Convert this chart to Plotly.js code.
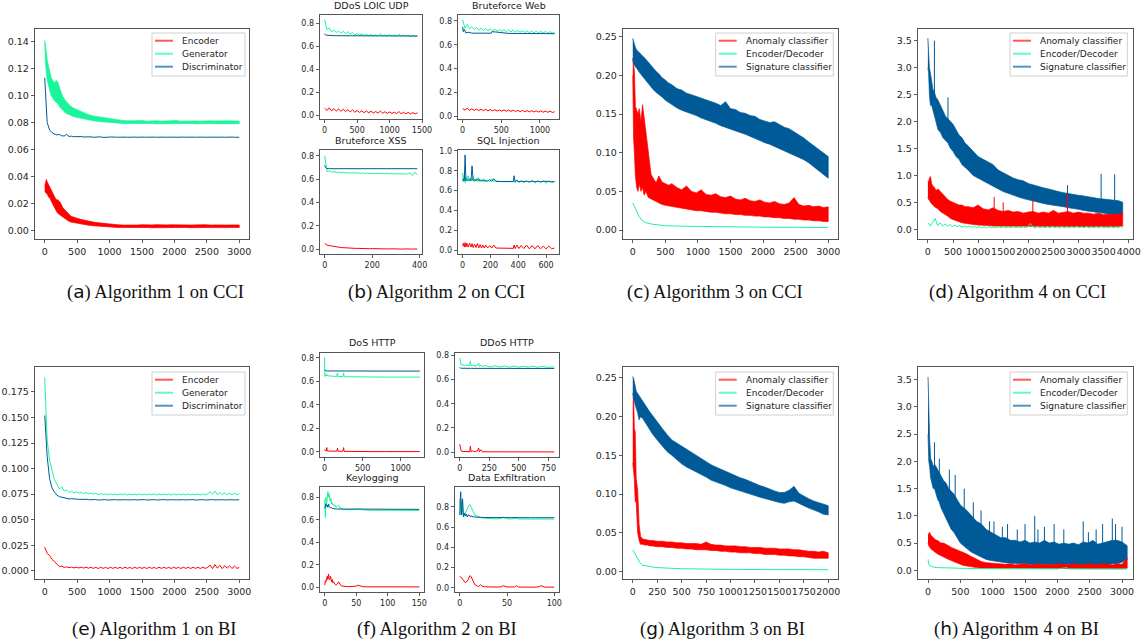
<!DOCTYPE html>
<html><head><meta charset="utf-8">
<script src="https://cdn.plot.ly/plotly-3.0.1.min.js"></script>
<style>html,body{margin:0;padding:0;background:#fff;} #chart{width:1145px;height:644px;}</style>
</head><body><div id="chart"></div>
<script>
// ======================= DATA =======================
// shared x grids (iterations)
const G30 = [0,12,25,40,60,80,100,125,150,175,200,240,280,320,360,400,450,500,550,600,
 675,750,825,900,975,1050,1125,1200,1275,1350,1425,1500,1575,1650,1725,1800,1875,1950,2025,2100,
 2175,2250,2325,2400,2475,2550,2625,2700,2775,2850,2925,3000];
const G39 = [0,15,30,50,75,100,130,160,200,250,300,350,400,450,500,560,620,680,740,800,
 900,1000,1100,1200,1300,1400,1500,1600,1700,1800,1900,2000,2100,2200,2300,2400,2500,2600,2700,2800,
 2900,3000,3100,3200,3300,3400,3500,3600,3700,3800,3880];
const G20 = [0,8,16,25,35,50,65,80,100,125,150,175,200,250,300,350,400,450,500,550,
 600,650,700,750,800,850,900,950,1000,1050,1100,1150,1200,1250,1300,1350,1400,1450,1500,1550,
 1600,1650,1700,1750,1800,1850,1900,1950,2000];
const G31 = [0,12,25,40,60,80,100,125,150,175,200,240,280,320,360,400,450,500,550,600,
 675,750,825,900,975,1050,1125,1200,1275,1350,1425,1500,1575,1650,1725,1800,1875,1950,2025,2100,
 2175,2250,2325,2400,2475,2550,2625,2700,2775,2850,2925,3000,3080];

// (a) Algorithm 1 on CCI  (noisy series as upper/lower envelopes on G30)
const A_enc_hi = [0.033,0.036,0.038,0.036,0.034,0.032,0.030,0.028,0.025,0.023,
 0.023,0.021,0.017,0.015,0.013,0.011,0.010,0.009,0.0085,0.008,
 0.007,0.0065,0.006,0.0055,0.0050,0.0047,0.0045,0.0043,0.0042,0.0044,
 0.0043,0.0045,0.0043,0.0044,0.0046,0.0043,0.0044,0.0045,0.0043,0.0046,
 0.0044,0.0043,0.0045,0.0044,0.0046,0.0043,0.0045,0.0044,0.0043,0.0045,0.0044,0.0043];
const A_enc_lo = [0.029,0.029,0.028,0.027,0.025,0.024,0.022,0.020,0.017,0.015,
 0.013,0.012,0.010,0.009,0.0075,0.0065,0.006,0.0055,0.005,0.0047,
 0.0042,0.0038,0.0034,0.0031,0.0028,0.0027,0.0025,0.0024,0.0023,0.0024,
 0.0023,0.0024,0.0025,0.0023,0.0024,0.0023,0.0025,0.0024,0.0023,0.0024,
 0.0025,0.0023,0.0024,0.0023,0.0025,0.0024,0.0023,0.0024,0.0025,0.0023,0.0024,0.0025];
const A_gen_hi = [0.141,0.136,0.131,0.126,0.121,0.116,0.113,0.111,0.109,0.111,
 0.110,0.104,0.099,0.096,0.094,0.092,0.0905,0.0895,0.088,0.087,
 0.0858,0.0848,0.0842,0.0836,0.0829,0.0823,0.0818,0.0815,0.0812,0.0813,
 0.0811,0.0814,0.0810,0.0812,0.0813,0.0810,0.0812,0.0811,0.0814,0.0810,
 0.0812,0.0813,0.0811,0.0810,0.0813,0.0812,0.0811,0.0813,0.0810,0.0812,0.0811,0.0810];
const A_gen_lo = [0.139,0.124,0.117,0.111,0.107,0.103,0.100,0.098,0.096,0.095,
 0.094,0.091,0.089,0.087,0.086,0.0852,0.0843,0.0837,0.0832,0.0826,
 0.0819,0.0813,0.0808,0.0804,0.0801,0.0797,0.0795,0.0793,0.0792,0.0791,
 0.0792,0.0790,0.0791,0.0792,0.0790,0.0791,0.0790,0.0792,0.0791,0.0790,
 0.0791,0.0792,0.0790,0.0791,0.0790,0.0792,0.0791,0.0790,0.0791,0.0792,0.0790,0.0791];
const A_dx = 37.5;
const A_disc = [0.113,0.080,0.0745,0.0725,0.0715,0.0708,0.0712,0.0702,0.0700,0.0712,
 0.0697,0.0699,0.0695,0.0697,0.0694,0.0696,0.0693,0.0695,0.0692,0.0694,
 0.0691,0.0693,0.0691,0.0694,0.0690,0.0693,0.0691,0.0693,0.0690,0.0692,
 0.0691,0.0693,0.0690,0.0692,0.0691,0.0693,0.0690,0.0692,0.0691,0.0693,
 0.0690,0.0692,0.0691,0.0693,0.0690,0.0692,0.0691,0.0693,0.0690,0.0692,
 0.0691,0.0693,0.0690,0.0692,0.0691,0.0693,0.0690,0.0692,0.0691,0.0693,
 0.0690,0.0692,0.0691,0.0693,0.0690,0.0692,0.0691,0.0693,0.0690,0.0692,
 0.0691,0.0693,0.0690,0.0692,0.0691,0.0693,0.0690,0.0692,0.0691,0.0693,0.0691];

// (b) Algorithm 2 on CCI
const B1_dx = 35.75;   // DDoS LOIC UDP
const B1_enc = [0.065,0.045,0.068,0.042,0.06,0.04,0.058,0.038,0.055,0.035,
 0.052,0.032,0.05,0.03,0.045,0.028,0.042,0.026,0.04,0.025,
 0.038,0.023,0.036,0.022,0.04,0.021,0.034,0.02,0.032,0.019,
 0.03,0.018,0.035,0.017,0.029,0.016,0.028,0.015,0.027,0.015,0.025];
const B1_gen = [0.83,0.745,0.76,0.725,0.74,0.72,0.735,0.715,0.73,0.712,
 0.728,0.705,0.72,0.70,0.712,0.698,0.708,0.695,0.705,0.693,
 0.702,0.692,0.70,0.69,0.71,0.69,0.70,0.688,0.702,0.689,
 0.70,0.687,0.706,0.688,0.70,0.686,0.698,0.685,0.697,0.684,0.695];
const B1_disc_x = [0,10,30,60,150,400,800,1430];
const B1_disc = [0.71,0.70,0.697,0.695,0.693,0.692,0.69,0.69];

const B2_dx = 29.75;   // Bruteforce Web
const B2_enc = [0.062,0.05,0.065,0.048,0.06,0.047,0.058,0.046,0.057,0.045,
 0.056,0.044,0.055,0.043,0.053,0.042,0.052,0.041,0.051,0.04,
 0.05,0.039,0.049,0.038,0.048,0.037,0.047,0.036,0.046,0.035,
 0.045,0.034,0.044,0.033,0.043,0.032,0.042,0.031,0.041,0.03,0.036];
const B2_gen = [0.81,0.74,0.77,0.735,0.75,0.728,0.742,0.724,0.738,0.72,
 0.735,0.718,0.732,0.716,0.73,0.714,0.728,0.712,0.726,0.71,
 0.724,0.708,0.722,0.706,0.72,0.705,0.718,0.703,0.716,0.702,
 0.714,0.701,0.713,0.70,0.712,0.699,0.711,0.698,0.71,0.697,0.705];
const B2_disc_x = [0,8,20,40,80,120,370,380,600,1190];
const B2_disc = [0.75,0.71,0.73,0.70,0.705,0.697,0.697,0.71,0.695,0.693];

const B3_dx = 10;      // Bruteforce XSS
const B3_enc = [0.05,0.035,0.032,0.027,0.024,0.02,0.018,0.015,0.013,0.012,
 0.011,0.01,0.009,0.008,0.0085,0.007,0.0075,0.006,0.007,0.005,
 0.006,0.005,0.0055,0.004,0.005,0.004,0.0045,0.003,0.0045,0.003,
 0.004,0.003,0.004,0.002,0.004,0.002,0.003,0.002,0.003,0.002];
const B3_gen = [0.80,0.665,0.672,0.66,0.665,0.657,0.662,0.655,0.659,0.653,
 0.657,0.652,0.656,0.651,0.655,0.65,0.654,0.649,0.653,0.648,
 0.652,0.647,0.651,0.647,0.65,0.646,0.65,0.645,0.649,0.645,
 0.648,0.644,0.648,0.644,0.647,0.643,0.655,0.632,0.66,0.64];
const B3_disc_x = [0,3,8,20,390];
const B3_disc = [0.72,0.70,0.692,0.69,0.69];

const B4_x = [0,6,12,18,24,30,40,50,60,68,76,86,96,106,116,126,136,146,156,166,
 180,195,210,225,240,260,290,320,350,365,370,378,390,405,420,440,460,480,500,520,
 540,560,580,600,620,640,660];   // SQL Injection
const B4_enc = [0.04,0.07,0.03,0.075,0.03,0.07,0.03,0.07,0.03,0.065,
 0.025,0.06,0.025,0.065,0.02,0.055,0.02,0.05,0.02,0.05,
 0.02,0.045,0.02,0.05,0.02,0.02,0.018,0.018,0.017,0.017,
 0.05,0.015,0.05,0.015,0.045,0.015,0.05,0.012,0.045,0.012,
 0.045,0.012,0.04,0.012,0.04,0.012,0.02];
const B4_gen = [0.78,0.69,0.76,0.68,0.74,0.70,0.75,0.69,0.72,0.70,
 0.74,0.69,0.72,0.69,0.73,0.69,0.71,0.69,0.72,0.69,
 0.71,0.69,0.72,0.69,0.70,0.69,0.69,0.69,0.69,0.69,
 0.70,0.68,0.71,0.68,0.70,0.68,0.70,0.68,0.705,0.675,
 0.70,0.68,0.70,0.675,0.695,0.68,0.69];
const B4_disc = [0.70,0.72,0.70,0.96,0.70,0.71,0.70,0.72,0.70,0.85,
 0.70,0.71,0.70,0.72,0.70,0.71,0.695,0.71,0.695,0.70,
 0.695,0.71,0.693,0.72,0.693,0.693,0.692,0.692,0.692,0.692,
 0.75,0.692,0.70,0.69,0.695,0.69,0.695,0.69,0.695,0.69,
 0.694,0.69,0.694,0.69,0.693,0.69,0.69];

// (c) Algorithm 3 on CCI (envelopes on G30)
const C_anom_hi = [0.222,0.215,0.205,0.160,0.155,0.150,0.157,0.140,0.162,0.140,
 0.128,0.100,0.072,0.066,0.061,0.070,0.062,0.060,0.058,0.060,
 0.055,0.052,0.057,0.050,0.048,0.052,0.046,0.045,0.047,0.043,
 0.042,0.044,0.040,0.039,0.041,0.038,0.037,0.039,0.036,0.035,
 0.037,0.034,0.033,0.035,0.042,0.033,0.031,0.032,0.030,0.031,0.029,0.030];
const C_anom_lo = [0.200,0.120,0.100,0.070,0.055,0.050,0.060,0.050,0.055,0.045,
 0.050,0.042,0.040,0.038,0.037,0.035,0.033,0.032,0.031,0.030,
 0.029,0.028,0.027,0.026,0.025,0.025,0.024,0.023,0.023,0.022,
 0.021,0.021,0.020,0.020,0.019,0.019,0.018,0.018,0.017,0.017,
 0.016,0.016,0.015,0.015,0.014,0.014,0.013,0.013,0.012,0.012,0.011,0.011];
const C_sig_hi = [0.248,0.244,0.239,0.236,0.233,0.231,0.229,0.227,0.224,0.223,
 0.221,0.217,0.212,0.209,0.205,0.202,0.197,0.194,0.190,0.188,
 0.183,0.181,0.177,0.175,0.173,0.170,0.168,0.166,0.164,0.161,
 0.166,0.157,0.156,0.152,0.151,0.148,0.147,0.143,0.141,0.139,
 0.140,0.136,0.133,0.131,0.127,0.124,0.119,0.114,0.109,0.104,0.099,0.095];
const C_sig_lo = [0.222,0.216,0.213,0.212,0.209,0.207,0.204,0.201,0.199,0.196,
 0.193,0.189,0.185,0.181,0.178,0.175,0.172,0.168,0.165,0.162,
 0.158,0.155,0.152,0.150,0.148,0.145,0.143,0.140,0.138,0.135,
 0.133,0.130,0.128,0.126,0.124,0.121,0.119,0.116,0.113,0.111,
 0.109,0.106,0.103,0.100,0.097,0.094,0.091,0.087,0.083,0.078,0.072,0.067];
const C_ed_x = [0,25,50,75,100,150,200,300,400,500,700,1000,1500,2000,2500,3000];
const C_ed = [0.035,0.031,0.026,0.021,0.017,0.012,0.0095,0.0075,0.0063,0.0056,0.005,0.0045,0.004,0.0037,0.0035,0.0033];

// (d) Algorithm 4 on CCI (envelopes on G39 + isolated spikes)
const D_sig_hi = [3.55,3.20,3.00,2.90,2.70,2.60,2.55,2.45,2.40,2.30,
 2.20,2.10,2.05,2.00,1.95,1.85,1.75,1.70,1.60,1.55,
 1.45,1.35,1.30,1.25,1.20,1.10,1.05,1.00,0.95,0.92,
 0.90,0.85,0.82,0.80,0.77,0.75,0.72,0.70,0.68,0.66,
 0.65,0.63,0.62,0.60,0.58,0.57,0.56,0.55,0.54,0.53,0.50];
const D_sig_lo = [3.00,2.90,2.50,2.30,2.30,2.20,2.10,2.00,1.85,1.80,
 1.70,1.65,1.60,1.50,1.45,1.35,1.30,1.20,1.15,1.10,
 1.00,0.95,0.90,0.85,0.80,0.75,0.70,0.67,0.63,0.60,
 0.57,0.55,0.52,0.50,0.48,0.46,0.45,0.43,0.42,0.40,
 0.38,0.37,0.35,0.34,0.32,0.31,0.30,0.28,0.27,0.25,0.28];
const D_sig_spk_x = [130,400,2780,3450,3720];
const D_sig_spk_base = [2.3,1.9,0.55,0.45,0.4];
const D_sig_spk_peak = [3.5,2.45,0.82,1.03,1.02];
const D_anom_hi = [0.90,0.88,0.95,0.98,0.85,0.80,0.78,0.72,0.75,0.70,
 0.65,0.62,0.55,0.52,0.50,0.48,0.45,0.45,0.42,0.42,
 0.40,0.45,0.38,0.36,0.40,0.35,0.33,0.35,0.32,0.33,
 0.30,0.32,0.33,0.30,0.32,0.30,0.35,0.30,0.32,0.33,
 0.30,0.32,0.30,0.30,0.28,0.30,0.27,0.28,0.27,0.28,0.30];
const D_anom_lo = [0.60,0.55,0.55,0.50,0.48,0.45,0.42,0.40,0.38,0.33,
 0.30,0.27,0.24,0.20,0.18,0.16,0.14,0.12,0.11,0.10,
 0.09,0.08,0.07,0.07,0.06,0.06,0.06,0.05,0.05,0.05,
 0.05,0.05,0.05,0.05,0.05,0.05,0.05,0.05,0.05,0.05,
 0.05,0.05,0.05,0.05,0.05,0.05,0.05,0.05,0.05,0.05,0.06];
const D_anom_spk_x = [1320,1500,2090,2780];
const D_anom_spk_base = [0.3,0.3,0.3,0.3];
const D_anom_spk_peak = [0.6,0.5,0.55,0.65];
const D_dx = 48.6;
const D_ed = [0.12,0.06,0.13,0.20,0.07,0.12,0.06,0.10,0.06,0.09,
 0.05,0.08,0.05,0.07,0.04,0.065,0.04,0.06,0.035,0.055,
 0.03,0.05,0.03,0.045,0.03,0.05,0.028,0.045,0.03,0.048,
 0.03,0.05,0.03,0.045,0.03,0.05,0.028,0.045,0.03,0.048,
 0.03,0.05,0.11,0.045,0.03,0.05,0.028,0.045,0.03,0.048,
 0.03,0.05,0.03,0.045,0.03,0.05,0.028,0.045,0.03,0.048,
 0.03,0.05,0.03,0.045,0.03,0.05,0.028,0.045,0.03,0.048,
 0.03,0.05,0.03,0.045,0.03,0.05,0.028,0.045,0.03,0.048,0.035];

// (e) Algorithm 1 on BI
const E_dx = 37.5;
const E_enc = [0.023,0.017,0.015,0.011,0.009,0.006,0.004,0.0045,0.0032,0.0038,
 0.0030,0.0036,0.0028,0.0034,0.0027,0.0035,0.0026,0.0034,0.0025,0.0033,
 0.0023,0.0033,0.0022,0.0034,0.0023,0.0032,0.0022,0.0034,0.0023,0.0033,
 0.0023,0.0033,0.0022,0.0034,0.0023,0.0032,0.0022,0.0034,0.0023,0.0033,
 0.0023,0.0033,0.0022,0.0034,0.0023,0.0032,0.0022,0.0034,0.0023,0.0033,
 0.0023,0.0033,0.0022,0.0034,0.0023,0.0032,0.0022,0.0034,0.0023,0.0033,
 0.0022,0.0034,0.0023,0.0033,0.0022,0.0034,0.0023,0.0033,
 0.0055,0.0020,0.0060,0.0025,0.0052,0.0020,0.0050,0.0025,0.0048,0.0022,0.0045,0.0024,0.0030];
const E_gen = [0.189,0.128,0.108,0.097,0.089,0.085,0.080,0.082,0.078,0.079,
 0.0765,0.078,0.0762,0.0772,0.0758,0.0768,0.0755,0.0765,0.0752,0.0762,
 0.0748,0.0758,0.0745,0.0755,0.0745,0.0752,0.0742,0.0752,0.0743,0.0751,
 0.0742,0.0751,0.0743,0.0752,0.0741,0.0750,0.0743,0.0751,0.0742,0.0752,
 0.0741,0.0751,0.0742,0.0750,0.0743,0.0752,0.0741,0.0751,0.0742,0.0750,
 0.0743,0.0751,0.0741,0.0752,0.0742,0.0750,0.0743,0.0751,0.0741,0.0752,
 0.0742,0.0750,0.0743,0.0751,0.0741,0.0752,0.0742,0.0751,
 0.0775,0.0748,0.0780,0.0745,0.0765,0.0745,0.0762,0.0744,0.0758,0.0745,0.0760,0.0744,0.0752];
const E_disc = [0.152,0.112,0.090,0.081,0.077,0.074,0.0725,0.0718,0.0712,0.0708,
 0.0703,0.0705,0.0700,0.0702,0.0698,0.0700,0.0696,0.0699,0.0695,0.0697,
 0.0693,0.0696,0.0692,0.0695,0.0693,0.0696,0.0692,0.0695,0.0693,0.0696,
 0.0693,0.0696,0.0692,0.0695,0.0693,0.0696,0.0692,0.0695,0.0693,0.0696,
 0.0693,0.0696,0.0692,0.0695,0.0693,0.0696,0.0692,0.0695,0.0693,0.0696,
 0.0693,0.0696,0.0692,0.0695,0.0693,0.0696,0.0692,0.0695,0.0693,0.0696,
 0.0693,0.0696,0.0692,0.0695,0.0693,0.0696,0.0692,0.0695,0.0693,0.0696,
 0.0693,0.0696,0.0692,0.0695,0.0693,0.0696,0.0692,0.0695,0.0693,0.0696,0.0694];

// (f) Algorithm 2 on BI
const F1_x = [0,4,10,20,30,34,40,60,100,160,170,176,200,240,250,256,280,330,400,600,800,1000,1250]; // DoS HTTP
const F1_enc = [0.02,0.01,0.008,0.006,0.035,0.006,0.006,0.005,0.004,0.004,
 0.03,0.004,0.004,0.003,0.035,0.003,0.003,0.002,0.002,0.001,0.001,0.001,0.001];
const F1_gen = [0.80,0.64,0.655,0.645,0.66,0.645,0.648,0.645,0.643,0.64,
 0.67,0.64,0.64,0.64,0.67,0.64,0.638,0.637,0.636,0.636,0.635,0.635,0.635];
const F1_disc_x = [0,5,15,40,1250];
const F1_disc = [0.70,0.69,0.688,0.687,0.686];

const F2_x = [0,5,12,20,40,60,85,90,96,110,130,150,160,166,180,190,220,260,300,340,
 380,420,460,500,540,580,620,660,700,740,800]; // DDoS HTTP
const F2_enc = [0.065,0.02,0.01,0.006,0.005,0.004,0.004,0.05,0.004,0.01,
 0.004,0.01,0.035,0.004,0.02,0.003,0.003,0.002,0.002,0.002,
 0.002,0.002,0.002,0.002,0.002,0.002,0.002,0.002,0.002,0.002,0.002];
const F2_gen = [0.78,0.73,0.72,0.725,0.715,0.72,0.715,0.755,0.715,0.72,
 0.71,0.72,0.735,0.71,0.72,0.71,0.715,0.705,0.715,0.705,
 0.712,0.703,0.712,0.703,0.71,0.703,0.712,0.702,0.71,0.702,0.705];
const F2_disc_x = [0,5,20,100,800];
const F2_disc = [0.70,0.695,0.694,0.693,0.692];

const F3_x = [0,1,2,3,4,5,6,7,8,9,10,11,12,13,14,15,16,18,20,22,
 24,26,28,30,33,36,40,45,50,53,55,57,60,65,70,75,80,90,100,110,120,130,140,150]; // Keylogging
const F3_enc = [0.02,0.06,0.05,0.09,0.10,0.07,0.12,0.08,0.07,0.10,
 0.06,0.05,0.07,0.04,0.05,0.03,0.03,0.02,0.03,0.05,
 0.025,0.015,0.012,0.01,0.01,0.008,0.008,0.01,0.012,0.02,
 0.015,0.01,0.008,0.006,0.006,0.005,0.005,0.005,0.005,0.005,0.005,0.005,0.005,0.005];
const F3_gen = [0.78,0.62,0.80,0.74,0.79,0.85,0.80,0.83,0.78,0.76,
 0.79,0.74,0.75,0.73,0.74,0.72,0.73,0.71,0.72,0.73,
 0.705,0.70,0.695,0.69,0.69,0.688,0.688,0.69,0.69,0.695,
 0.70,0.693,0.688,0.685,0.685,0.684,0.684,0.683,0.683,0.683,0.682,0.682,0.682,0.682];
const F3_disc = [0.70,0.73,0.74,0.72,0.73,0.71,0.74,0.72,0.71,0.705,
 0.71,0.70,0.70,0.70,0.698,0.697,0.696,0.695,0.695,0.695,
 0.694,0.694,0.694,0.694,0.694,0.694,0.693,0.693,0.693,0.693,
 0.694,0.693,0.693,0.693,0.693,0.692,0.692,0.692,0.692,0.692,0.692,0.692,0.692,0.692];

const F4_x = [0,1,2,3,4,5,6,7,8,9,10,11,12,13,14,15,16,18,20,22,
 24,26,30,35,40,44,46,50,55,58,60,62,66,70,75,80,84,86,90,95,100]; // Data Exfiltration
const F4_enc = [0.11,0.105,0.10,0.085,0.07,0.055,0.05,0.055,0.065,0.08,
 0.105,0.12,0.11,0.09,0.065,0.045,0.03,0.02,0.012,0.03,
 0.015,0.01,0.008,0.007,0.007,0.01,0.02,0.008,0.007,0.008,
 0.02,0.007,0.007,0.006,0.006,0.006,0.01,0.02,0.006,0.006,0.006];
const F4_gen = [0.88,0.72,0.85,0.75,0.70,0.72,0.74,0.76,0.78,0.80,
 0.82,0.82,0.80,0.78,0.75,0.73,0.72,0.71,0.70,0.695,
 0.69,0.688,0.685,0.683,0.682,0.685,0.70,0.683,0.68,0.682,
 0.69,0.68,0.68,0.68,0.68,0.68,0.682,0.68,0.68,0.68,0.68];
const F4_disc = [0.72,0.95,0.72,0.88,0.70,0.74,0.71,0.73,0.70,0.72,
 0.72,0.705,0.71,0.705,0.70,0.70,0.70,0.698,0.697,0.697,
 0.696,0.695,0.695,0.694,0.694,0.694,0.694,0.694,0.693,0.693,
 0.693,0.693,0.693,0.693,0.693,0.693,0.693,0.693,0.693,0.693,0.693];

// (g) Algorithm 3 on BI (envelopes on G20)
const G_anom_hi = [0.230,0.230,0.185,0.180,0.120,0.105,0.060,0.045,0.042,0.041,
 0.041,0.040,0.040,0.039,0.039,0.038,0.038,0.037,0.037,0.036,
 0.036,0.036,0.035,0.038,0.035,0.034,0.034,0.033,0.033,0.033,
 0.032,0.032,0.031,0.031,0.031,0.030,0.030,0.030,0.029,0.029,
 0.029,0.028,0.028,0.027,0.026,0.026,0.025,0.026,0.024];
const G_anom_lo = [0.140,0.130,0.120,0.090,0.090,0.050,0.040,0.035,0.035,0.034,
 0.034,0.033,0.033,0.032,0.032,0.031,0.031,0.030,0.030,0.029,
 0.029,0.028,0.028,0.028,0.027,0.027,0.026,0.026,0.025,0.025,
 0.024,0.024,0.024,0.023,0.023,0.022,0.022,0.022,0.021,0.021,
 0.020,0.020,0.019,0.019,0.018,0.017,0.017,0.017,0.017];
const G_sig_hi = [0.252,0.250,0.245,0.240,0.233,0.230,0.227,0.225,0.221,0.215,
 0.210,0.206,0.202,0.193,0.185,0.177,0.170,0.166,0.162,0.157,
 0.153,0.149,0.146,0.142,0.138,0.135,0.132,0.129,0.126,0.124,
 0.121,0.119,0.116,0.114,0.111,0.109,0.106,0.104,0.102,0.102,
 0.105,0.110,0.101,0.097,0.094,0.091,0.089,0.087,0.085];
const G_sig_lo = [0.230,0.225,0.220,0.215,0.210,0.205,0.196,0.200,0.198,0.193,
 0.188,0.183,0.178,0.170,0.162,0.155,0.150,0.145,0.139,0.135,
 0.131,0.128,0.125,0.122,0.118,0.116,0.113,0.111,0.108,0.106,
 0.104,0.102,0.100,0.098,0.096,0.095,0.093,0.091,0.089,0.088,
 0.090,0.091,0.088,0.085,0.082,0.079,0.077,0.074,0.073];
const G_ed_x = [0,25,50,75,100,150,200,250,300,400,500,700,1000,1500,2000];
const G_ed = [0.028,0.022,0.016,0.011,0.008,0.0065,0.0058,0.005,0.0045,0.004,0.0035,0.003,0.0026,0.0023,0.0022];

// (h) Algorithm 4 on BI (envelopes on G31 + isolated spikes)
const H_anom_hi = [0.65,0.68,0.70,0.65,0.62,0.60,0.58,0.55,0.55,0.52,
 0.50,0.50,0.48,0.45,0.42,0.40,0.38,0.35,0.33,0.30,
 0.25,0.20,0.16,0.14,0.13,0.12,0.12,0.11,0.12,0.10,
 0.11,0.12,0.10,0.11,0.12,0.10,0.11,0.10,0.12,0.11,
 0.10,0.12,0.11,0.10,0.12,0.11,0.10,0.12,0.11,0.10,0.12,0.11,0.22];
const H_anom_lo = [0.50,0.45,0.42,0.40,0.38,0.36,0.35,0.32,0.30,0.28,
 0.27,0.25,0.22,0.20,0.18,0.16,0.13,0.11,0.09,0.08,
 0.06,0.05,0.04,0.035,0.03,0.03,0.03,0.03,0.03,0.03,
 0.03,0.03,0.03,0.03,0.03,0.03,0.03,0.03,0.03,0.03,
 0.03,0.03,0.03,0.03,0.03,0.03,0.03,0.03,0.03,0.03,0.03,0.03,0.04];
const H_sig_hi = [3.55,2.70,2.40,2.05,2.00,1.90,1.95,1.90,1.85,1.80,
 1.75,1.65,1.60,1.50,1.45,1.40,1.30,1.20,1.15,1.10,
 1.00,0.90,0.85,0.75,0.70,0.65,0.60,0.60,0.55,0.55,
 0.52,0.55,0.50,0.52,0.50,0.55,0.50,0.52,0.48,0.50,
 0.48,0.50,0.47,0.52,0.50,0.55,0.48,0.50,0.52,0.55,0.55,0.52,0.45];
const H_sig_lo = [2.50,2.00,1.90,1.70,1.60,1.50,1.50,1.40,1.30,1.25,
 1.15,1.05,0.95,0.85,0.75,0.70,0.60,0.50,0.45,0.40,
 0.33,0.28,0.24,0.20,0.18,0.16,0.15,0.14,0.13,0.12,
 0.12,0.12,0.11,0.11,0.11,0.10,0.10,0.11,0.10,0.10,
 0.10,0.10,0.11,0.10,0.10,0.11,0.10,0.10,0.10,0.12,0.12,0.15,0.20];
const H_sig_spk_x = [100,175,330,420,560,700,820,950,1020,1150,1230,1380,1500,1650,1700,1800,1950,2100,2400,2480,2600,2700,2850,2900,3000];
const H_sig_spk_base = [1.8,1.7,1.3,1.2,1.0,0.9,0.7,0.6,0.5,0.5,0.5,0.5,0.5,0.5,0.5,0.5,0.5,0.5,0.5,0.5,0.5,0.5,0.5,0.5,0.5];
const H_sig_spk_peak = [2.35,2.05,1.85,1.75,1.5,1.25,1.1,0.9,0.9,0.8,0.85,0.75,0.85,1.0,0.75,0.8,0.85,0.75,0.9,0.7,0.75,0.85,0.95,0.85,0.8];
const H_ed_x = [0,15,40,80,150,250,400,600,900,1200,1600,2000,2150,2160,2500,3080];
const H_ed = [0.20,0.10,0.08,0.06,0.05,0.045,0.04,0.035,0.03,0.028,0.027,0.026,0.05,0.026,0.025,0.025];

// labels
const NAMES1 = ['Encoder','Generator','Discriminator'];
const NAMES3 = ['Anomaly classifier','Encoder/Decoder','Signature classifier'];
const SMALL_TITLES = ['DDoS LOIC UDP','Bruteforce Web','Bruteforce XSS','SQL Injection',
                      'DoS HTTP','DDoS HTTP','Keylogging','Data Exfiltration'];
const CAPTIONS = [['a','Algorithm 1 on CCI'],['b','Algorithm 2 on CCI'],['c','Algorithm 3 on CCI'],['d','Algorithm 4 on CCI'],
                  ['e','Algorithm 1 on BI'],['f','Algorithm 2 on BI'],['g','Algorithm 3 on BI'],['h','Algorithm 4 on BI']];

// ======================= DRAWING =======================
const RED='#ff0000', GREEN='#1af59b', BLUE='#005a98';
const COLORS=[RED,GREEN,BLUE];
const W=1145, H=644;
const traces=[];
function ax(k){return k===1?'':String(k);}
function base(k,color,w){return {type:'scatter',mode:'lines',xaxis:'x'+ax(k),yaxis:'y'+ax(k),
  line:{color:color,width:w||1},hoverinfo:'skip',showlegend:false};}
function line(k,ci,y,xs){
  const t=base(k,COLORS[ci],1); t.y=y;
  if(Array.isArray(xs)) t.x=xs; else {t.x0=0; t.dx=xs;}
  traces.push(t);
}
function band(k,ci,grid,hi,lo){
  const t=base(k,COLORS[ci],0.7);
  t.x=grid.concat(grid.slice().reverse());
  t.y=hi.concat(lo.slice().reverse());
  t.fill='toself'; t.fillcolor=COLORS[ci];
  traces.push(t);
}
function spikes(k,ci,sx,sb,sp){
  const t=base(k,COLORS[ci],1); t.x=[]; t.y=[];
  sx.forEach((v,i)=>{t.x.push(v,v,null); t.y.push(sb[i],sp[i],null);});
  traces.push(t);
}
// (a)
band(1,0,G30,A_enc_hi,A_enc_lo); band(1,1,G30,A_gen_hi,A_gen_lo); line(1,2,A_disc,A_dx);
// (b)
line(2,0,B1_enc,B1_dx); line(2,1,B1_gen,B1_dx); line(2,2,B1_disc,B1_disc_x);
line(3,0,B2_enc,B2_dx); line(3,1,B2_gen,B2_dx); line(3,2,B2_disc,B2_disc_x);
line(4,0,B3_enc,B3_dx); line(4,1,B3_gen,B3_dx); line(4,2,B3_disc,B3_disc_x);
line(5,0,B4_enc,B4_x); line(5,1,B4_gen,B4_x); line(5,2,B4_disc,B4_x);
// (c)
band(6,0,G30,C_anom_hi,C_anom_lo); line(6,1,C_ed,C_ed_x); band(6,2,G30,C_sig_hi,C_sig_lo);
// (d)
band(7,2,G39,D_sig_hi,D_sig_lo); spikes(7,2,D_sig_spk_x,D_sig_spk_base,D_sig_spk_peak);
band(7,0,G39,D_anom_hi,D_anom_lo); spikes(7,0,D_anom_spk_x,D_anom_spk_base,D_anom_spk_peak);
line(7,1,D_ed,D_dx);
// (e)
line(8,0,E_enc,E_dx); line(8,1,E_gen,E_dx); line(8,2,E_disc,E_dx);
// (f)
line(9,0,F1_enc,F1_x); line(9,1,F1_gen,F1_x); line(9,2,F1_disc,F1_disc_x);
line(10,0,F2_enc,F2_x); line(10,1,F2_gen,F2_x); line(10,2,F2_disc,F2_disc_x);
line(11,0,F3_enc,F3_x); line(11,1,F3_gen,F3_x); line(11,2,F3_disc,F3_x);
line(12,0,F4_enc,F4_x); line(12,1,F4_gen,F4_x); line(12,2,F4_disc,F4_x);
// (g)
band(13,0,G20,G_anom_hi,G_anom_lo); line(13,1,G_ed,G_ed_x); band(13,2,G20,G_sig_hi,G_sig_lo);
// (h)
band(14,2,G31,H_sig_hi,H_sig_lo); spikes(14,2,H_sig_spk_x,H_sig_spk_base,H_sig_spk_peak);
band(14,0,G31,H_anom_hi,H_anom_lo); line(14,1,H_ed,H_ed_x);

// panels: box in px [left,right,top,bottom]
const S=[0,0.2,0.4,0.6,0.8];
const panels=[
 {k:1, box:[35,249,29,239], xr:[-150,3150], yr:[-0.006,0.149], xt:[0,500,1000,1500,2000,2500,3000], yt:[0,0.02,0.04,0.06,0.08,0.10,0.12,0.14], yf:'.2f'},
 {k:2, box:[320,422,15,119], xr:[-72,1500], yr:[-0.029,0.872], xt:[0,500,1000,1500], yt:S, yf:'.1f', small:1},
 {k:3, box:[458,559,15,119], xr:[-60,1246], yr:[-0.025,0.85], xt:[0,500,1000], yt:S, yf:'.1f', small:1},
 {k:4, box:[320,422,150,254], xr:[-20,410], yr:[-0.04,0.85], xt:[0,200,400], yt:S, yf:'.1f', small:1},
 {k:5, box:[458,559,150,254], xr:[-33,693], yr:[-0.04,1.01], xt:[0,200,400,600], yt:[0,0.2,0.4,0.6,0.8,1.0], yf:'.1f', small:1},
 {k:6, box:[623,838,29,239], xr:[-150,3150], yr:[-0.0116,0.26], xt:[0,500,1000,1500,2000,2500,3000], yt:[0,0.05,0.10,0.15,0.20,0.25], yf:'.2f'},
 {k:7, box:[918,1133,29,239], xr:[-197,4085], yr:[-0.18,3.717], xt:[0,500,1000,1500,2000,2500,3000,3500,4000], yt:[0,0.5,1,1.5,2,2.5,3,3.5], yf:'.1f'},
 {k:8, box:[35,249,367,579], xr:[-150,3150], yr:[-0.0081,0.1994], xt:[0,500,1000,1500,2000,2500,3000], yt:[0,0.025,0.05,0.075,0.1,0.125,0.15,0.175], yf:'.3f'},
 {k:9, box:[320,424,353,457], xr:[-60,1305], yr:[-0.045,0.84], xt:[0,500,1000], yt:S, yf:'.1f', small:1},
 {k:10, box:[455,559,353,457], xr:[-40,840], yr:[-0.04,0.82], xt:[0,250,500,750], yt:S, yf:'.1f', small:1},
 {k:11, box:[320,424,487,592], xr:[-7.5,157.5], yr:[-0.04,0.89], xt:[0,50,100,150], yt:S, yf:'.1f', small:1},
 {k:12, box:[455,559,487,592], xr:[-5,105], yr:[-0.042,0.997], xt:[0,50,100], yt:S, yf:'.1f', small:1},
 {k:13, box:[623,838,367,579], xr:[-100,2100], yr:[-0.0098,0.2642], xt:[0,250,500,750,1000,1250,1500,1750,2000], yt:[0,0.05,0.10,0.15,0.20,0.25], yf:'.2f'},
 {k:14, box:[918,1133,367,579], xr:[-155,3170], yr:[-0.159,3.732], xt:[0,500,1000,1500,2000,2500,3000], yt:[0,0.5,1,1.5,2,2.5,3,3.5], yf:'.1f'}
];

const layout={width:W,height:H,margin:{l:0,r:0,t:0,b:0},paper_bgcolor:'#fff',plot_bgcolor:'#fff',
  showlegend:false, annotations:[], shapes:[], font:{family:'DejaVu Sans',color:'#262626'}};
panels.forEach(p=>{
  const s=ax(p.k);
  const common={showline:true,mirror:true,linecolor:'#555',linewidth:1.3,ticks:'outside',ticklen:3,tickwidth:0.8,
    tickcolor:'#333',showgrid:false,zeroline:false,fixedrange:true,tickangle:0,
    tickfont:{family:'DejaVu Sans',size:p.small?8:9.5,color:'#262626'}};
  layout['xaxis'+s]=Object.assign({},common,{domain:[p.box[0]/W,p.box[1]/W],range:p.xr,anchor:'y'+s,
    tickmode:'array',tickvals:p.xt,tickformat:'d'});
  layout['yaxis'+s]=Object.assign({},common,{domain:[1-p.box[3]/H,1-p.box[2]/H],range:p.yr,anchor:'x'+s,
    tickmode:'array',tickvals:p.yt,tickformat:p.yf});
});

// matplotlib-style legend boxes
function legendBox(left,right,top,names){
  layout.shapes.push({type:'rect',xref:'paper',yref:'paper',x0:left/W,x1:right/W,y0:1-(top+43)/H,y1:1-top/H,
    line:{color:'#d0d0d0',width:1},fillcolor:'rgba(255,255,255,0.85)',layer:'above'});
  names.forEach((n,i)=>{
    const yy=1-(top+7.7+13*i)/H;
    layout.shapes.push({type:'line',xref:'paper',yref:'paper',x0:(left+3)/W,x1:(left+21)/W,y0:yy,y1:yy,
      line:{color:COLORS[i],width:2},opacity:0.65,layer:'above'});
    layout.annotations.push({text:n,xref:'paper',yref:'paper',x:(left+29)/W,y:yy,xanchor:'left',yanchor:'middle',
      showarrow:false,borderpad:0,font:{family:'DejaVu Sans',size:9,color:'#222'}});
  });
}
legendBox(152,245,33,NAMES1); legendBox(715.7,833.3,33,NAMES3); legendBox(1010,1127.3,33,NAMES3);
legendBox(152,245,372,NAMES1); legendBox(715.7,833.3,372,NAMES3); legendBox(1010,1127.3,372,NAMES3);

// small panel titles
const titlePos=[[371,13],[508.5,13],[371,148],[508.5,148],[372,350],[507,350],[372,485],[507,485]];
SMALL_TITLES.forEach((t,i)=>{
  layout.annotations.push({text:t,xref:'paper',yref:'paper',x:titlePos[i][0]/W,y:1-titlePos[i][1]/H,
    xanchor:'center',yanchor:'bottom',showarrow:false,font:{family:'DejaVu Sans',size:9.5,color:'#1a1a1a'}});
});
// captions
const capPos=[[155,292],[436,292],[715,292],[1017,292],[154,629],[437,629],[722,629],[1016,629]];
CAPTIONS.forEach((c,i)=>{
  layout.annotations.push({text:'(<span style="font-family:DejaVu Sans">'+c[0]+'</span>) '+c[1],
    xref:'paper',yref:'paper',x:capPos[i][0]/W,y:1-capPos[i][1]/H,xanchor:'center',yanchor:'middle',showarrow:false,
    font:{family:'Liberation Serif',size:18.5,color:'#111'}});
});
Plotly.newPlot('chart',traces,layout,{staticPlot:true,displayModeBar:false});
</script></body></html>
